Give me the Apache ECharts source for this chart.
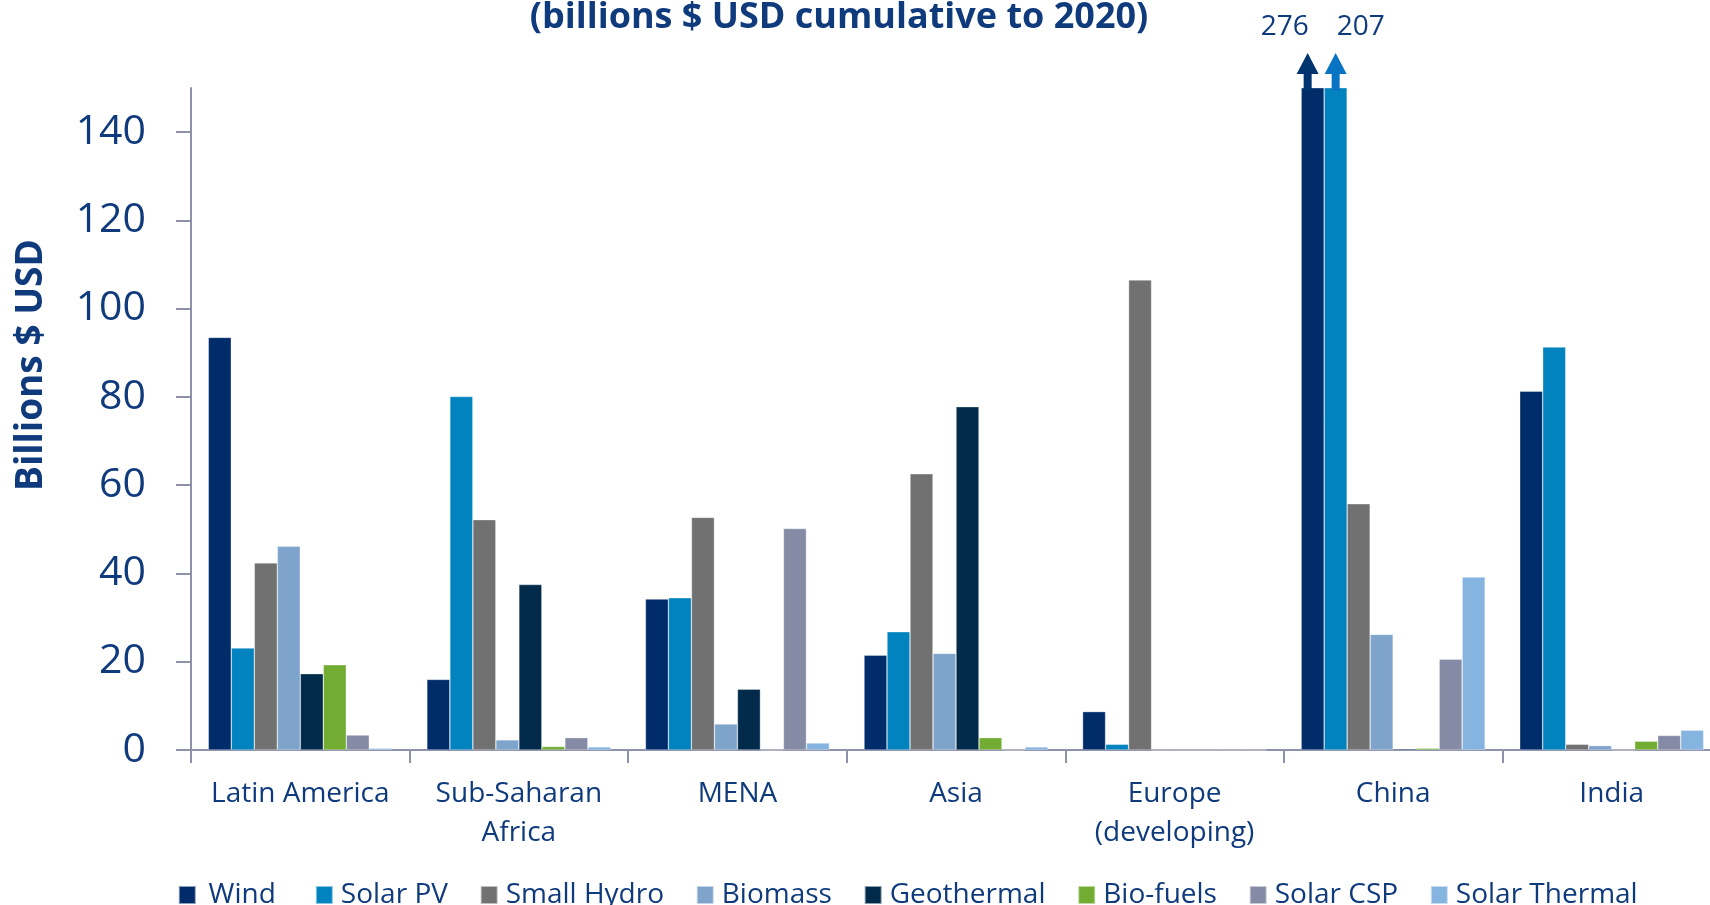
<!DOCTYPE html>
<html>
<head>
<meta charset="utf-8">
<script src="https://cdn.jsdelivr.net/npm/echarts@6/dist/echarts.min.js"></script>
<style>
  html, body { margin: 0; padding: 0; background: #ffffff; overflow: hidden; }
  /* the plot runs slightly past the right edge of the page */
  #chart { width: 1721px; height: 905px; }
</style>
</head>
<body>
<div id="chart"></div>
<script>
// Renewable energy investment by region, billions USD cumulative to 2020
const regions = ['Latin America', 'Sub-Saharan\nAfrica', 'MENA', 'Asia', 'Europe\n(developing)', 'China', 'India'];
const wind         = [93.5, 16.0, 34.2, 21.5,   8.7, 276,  81.3];
const solarPV      = [23.1, 80.1, 34.5, 26.8,   1.3, 207,  91.3];
const smallHydro   = [42.4, 52.2, 52.7, 62.6, 106.5, 55.8,  1.3];
const biomass      = [46.2,  2.3,  5.9, 21.9,   0,   26.2,  1.0];
const geothermal   = [17.3, 37.5, 13.8, 77.8,   0,    0.3,  0];
const bioFuels     = [19.3,  0.8,  0,    2.8,   0,    0.4,  2.0];
const solarCSP     = [ 3.4,  2.8, 50.2,  0,     0,   20.6,  3.3];
const solarThermal = [ 0.4,  0.7,  1.6,  0.7,   0,   39.2,  4.5];
const yTicks = [0, 20, 40, 60, 80, 100, 120, 140];

const AXIS_MAX = 150;            // values above this are cut off and flagged with an arrow
const FONT = "'Open Sans', 'Noto Sans', sans-serif";
const NAVY = '#0F3B7D';
const AXIS_COLOR = '#8F91AB';

const seriesDefs = [
  { name: 'Wind',          data: wind,         color: '#002C69' },
  { name: 'Solar PV',      data: solarPV,      color: '#0083BE' },
  { name: 'Small Hydro',   data: smallHydro,   color: '#717171' },
  { name: 'Biomass',       data: biomass,      color: '#7FA4CB' },
  { name: 'Geothermal',    data: geothermal,   color: '#022A4B' },
  { name: 'Bio-fuels',     data: bioFuels,     color: '#72AC33' },
  { name: 'Solar CSP',     data: solarCSP,     color: '#868BA5' },
  { name: 'Solar Thermal', data: solarThermal, color: '#86B4E0' }
];

// Arrow pointing up out of a clipped bar, labelled with the bar's full value
const ARROW_PATH = 'path://M11,0 L22,21 L15,21 L15,38 L7,38 L7,21 L0,21 Z';
const arrowStyles = {
  'Wind':     { color: '#00346F', dx: -5, labelDx: -23 },
  'Solar PV': { color: '#0A74C4', dx: 0,  labelDx: 25 }
};

function overflowMarks(def) {
  const style = arrowStyles[def.name];
  if (!style) return undefined;
  const points = [];
  def.data.forEach((v, i) => {
    if (v > AXIS_MAX) points.push({ coord: [i, AXIS_MAX], value: v });
  });
  if (!points.length) return undefined;
  return {
    symbol: ARROW_PATH,
    symbolKeepAspect: false,
    symbolSize: [22, 38],
    symbolOffset: [style.dx, -16],
    itemStyle: { color: style.color },
    label: {
      show: true,
      position: 'inside',
      offset: [style.labelDx, -45],
      formatter: p => String(p.value),
      color: NAVY,
      fontFamily: FONT,
      fontSize: 28
    },
    emphasis: { disabled: true },
    data: points
  };
}

// legend entries; the first one has extra room around its text
const legendData = seriesDefs.map((d, i) => i === 0
  ? { name: d.name, textStyle: { padding: [0, 0, 0, 7.8] } }
  : { name: d.name });

const chart = echarts.init(document.getElementById('chart'), null, { renderer: 'canvas' });

chart.setOption({
  animation: false,
  backgroundColor: '#ffffff',
  title: {
    text: '(billions $ USD cumulative to 2020)',
    left: 834,
    textAlign: 'center',
    top: -5,
    textStyle: { color: NAVY, fontFamily: FONT, fontWeight: 'bold', fontSize: 36 }
  },
  legend: {
    data: legendData,
    left: 172.8,
    top: 876,
    icon: 'rect',
    itemWidth: 17,
    itemHeight: 18,
    itemGap: 31.75,
    formatter: name => (name === 'Wind' ? '{t|' + name + '}{s| }' : name),
    textStyle: {
      color: NAVY, fontFamily: FONT, fontSize: 28, padding: [0, 0, 0, 3],
      rich: {
        t: { color: NAVY, fontFamily: FONT, fontSize: 28 },
        s: { width: 9, fontSize: 28 }
      }
    }
  },
  grid: { left: 191, right: 0, top: 88, bottom: 155, containLabel: false },
  xAxis: {
    type: 'category',
    data: regions,
    axisLine: { lineStyle: { color: AXIS_COLOR, width: 2 } },
    axisTick: { show: true, length: 13, interval: 0, lineStyle: { color: AXIS_COLOR, width: 2 } },
    axisLabel: {
      interval: 0, margin: 25, color: NAVY, fontFamily: FONT, fontSize: 28, lineHeight: 39
    }
  },
  yAxis: {
    type: 'value',
    min: 0,
    max: AXIS_MAX,
    interval: 20,
    name: 'Billions $ USD',
    nameLocation: 'middle',
    nameRotate: 90,
    nameGap: 141,
    nameTextStyle: {
      color: NAVY, fontFamily: FONT, fontWeight: 'bold', fontSize: 37,
      padding: [0, 0, 0, 108]
    },
    axisLine: { show: true, lineStyle: { color: AXIS_COLOR, width: 2 } },
    axisTick: { show: true, length: 15, customValues: yTicks, lineStyle: { color: AXIS_COLOR, width: 2 } },
    splitLine: { show: false },
    axisLabel: {
      customValues: yTicks, margin: 45, color: NAVY, fontFamily: FONT, fontSize: 41
    }
  },
  series: seriesDefs.map(d => ({
    name: d.name,
    type: 'bar',
    data: d.data,
    barWidth: 23,
    barGap: '0%',
    clip: true,
    itemStyle: { color: d.color, borderColor: 'rgba(255,255,255,0.55)', borderWidth: 0.6 },
    emphasis: { disabled: true },
    markPoint: overflowMarks(d)
  }))
});
</script>
</body>
</html>
